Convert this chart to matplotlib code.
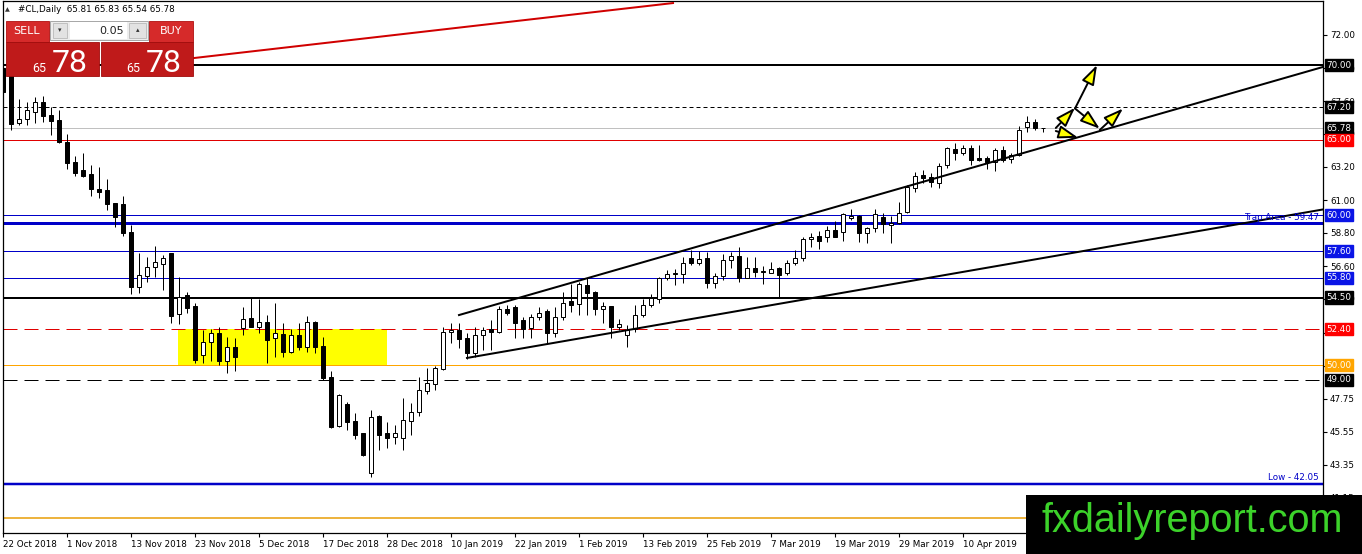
import numpy as np
import matplotlib.pyplot as plt
from matplotlib.patches import Rectangle, FancyArrowPatch
import matplotlib.transforms as mtransforms

# daily candles, #CL
opens = [69.8, 69.3, 66.11, 66.38, 66.89, 67.51, 66.67, 66.33, 64.89, 63.56,
         63.0, 62.73, 61.76, 61.67, 60.78, 60.73, 58.87, 55.22, 55.96, 56.56,
         56.73, 57.45, 53.38, 54.67, 53.93, 50.67, 51.51, 52.11, 50.29, 51.22,
         52.44, 53.11, 52.56, 52.89, 51.78, 52.07, 50.89, 52.0, 51.18, 52.84,
         51.27, 49.18, 45.93, 47.4, 46.27, 45.44, 42.82, 46.6, 45.49, 45.22,
         45.11, 46.27, 46.89, 48.29, 48.71, 49.73, 52.18, 52.33, 51.78, 50.78,
         52.0, 52.38, 52.22, 53.71, 53.84, 53.0, 52.44, 53.18, 53.62, 52.11,
         53.22, 54.29, 54.07, 55.33, 54.89, 53.71, 53.93, 52.56, 52.0, 52.38,
         53.33, 54.0, 54.38, 55.78, 56.07, 56.07, 57.11, 56.82, 57.11, 55.44,
         55.96, 57.0, 57.27, 55.82, 56.49, 56.2, 56.16, 56.49, 56.16, 56.82,
         57.11, 58.38, 58.6, 58.51, 59.0, 58.89, 59.82, 59.93, 58.82, 59.11,
         59.84, 59.33, 59.44, 60.22, 61.78, 62.67, 62.51, 62.16, 63.33, 64.38,
         64.16, 64.44, 63.78, 63.78, 63.56, 64.33, 63.71, 64.0, 65.84, 66.22,
         65.81]
highs = [70.3, 69.4, 67.71, 67.56, 67.89, 67.93, 67.22, 67.0, 65.4, 63.93,
         64.16, 63.33, 63.22, 62.4, 60.82, 61.27, 59.33, 57.45, 57.22, 57.93,
         57.33, 57.49, 55.84, 54.89, 54.11, 52.33, 52.38, 52.51, 51.89, 51.78,
         53.89, 54.56, 54.38, 53.33, 54.16, 52.78, 52.38, 52.82, 53.27, 52.96,
         51.84, 49.62, 48.04, 47.56, 46.78, 45.44, 47.0, 46.67, 46.22, 46.0,
         47.78, 47.44, 49.18, 49.78, 49.93, 52.56, 52.8, 52.78, 52.11, 52.56,
         52.51, 52.98, 53.93, 54.0, 54.0, 53.22, 53.4, 53.84, 53.71, 53.84,
         54.89, 55.4, 55.56, 55.78, 54.96, 54.22, 53.93, 53.04, 52.67, 54.0,
         54.38, 54.73, 55.89, 56.33, 56.38, 57.22, 57.67, 57.62, 57.56, 56.11,
         57.4, 57.56, 57.89, 57.22, 57.22, 56.6, 56.89, 56.56, 57.0, 57.67,
         58.56, 58.78, 58.96, 59.27, 59.62, 60.11, 60.38, 60.0, 59.22, 60.38,
         60.16, 59.93, 60.89, 62.0, 62.85, 63.0, 62.78, 63.44, 64.56, 64.78,
         64.67, 64.67, 64.67, 63.93, 64.44, 64.6, 64.11, 65.93, 66.6, 66.38,
         65.83]
lows = [67.9, 65.7, 66.0, 66.0, 66.16, 66.22, 65.33, 64.78, 63.09, 62.6,
        62.56, 61.27, 61.16, 60.33, 59.22, 58.6, 54.73, 54.78, 55.56, 55.89,
        55.0, 52.78, 52.73, 53.44, 50.16, 50.11, 50.29, 50.0, 49.44, 49.6,
        52.0, 52.51, 52.16, 50.11, 50.56, 50.56, 50.78, 51.0, 50.89, 50.82,
        49.0, 45.78, 45.89, 45.67, 45.04, 43.93, 42.51, 44.33, 44.44, 44.73,
        44.33, 45.33, 46.6, 48.07, 48.33, 49.67, 51.5, 51.15, 50.38, 50.56,
        51.0, 51.0, 52.16, 53.33, 51.78, 51.78, 51.78, 53.0, 51.44, 51.89,
        53.0, 53.56, 53.33, 53.33, 53.33, 52.82, 51.78, 52.33, 51.22, 52.22,
        53.22, 53.84, 54.16, 55.67, 55.33, 55.44, 56.67, 56.67, 55.11, 55.11,
        55.7, 56.44, 55.56, 55.78, 55.89, 55.4, 56.11, 54.56, 56.0, 56.67,
        56.96, 57.89, 57.71, 58.22, 58.51, 58.29, 59.67, 58.22, 58.16, 58.89,
        58.78, 58.16, 59.4, 60.11, 61.56, 62.11, 61.89, 61.78, 63.11, 63.67,
        64.0, 63.33, 63.6, 63.04, 62.96, 63.56, 63.44, 63.93, 65.56, 65.67,
        65.54]
closes = [68.2, 66.07, 66.38, 67.0, 67.56, 66.62, 66.29, 64.89, 63.49, 62.82,
          62.6, 61.71, 61.56, 60.73, 59.84, 58.82, 55.22, 56.0, 56.56, 56.84,
          57.11, 53.27, 54.51, 53.82, 50.33, 51.56, 52.11, 50.29, 51.22, 50.56,
          53.04, 52.56, 52.89, 51.67, 52.11, 50.89, 52.0, 51.18, 52.84, 51.22,
          49.11, 45.84, 47.98, 46.22, 45.33, 44.0, 46.56, 45.33, 45.11, 45.44,
          46.33, 46.84, 48.33, 48.78, 49.78, 52.18, 52.33, 51.71, 50.78, 52.0,
          52.33, 52.18, 53.71, 53.49, 52.78, 52.38, 53.18, 53.49, 52.11, 53.22,
          54.16, 53.98, 55.4, 54.82, 53.71, 53.93, 52.56, 52.71, 52.33, 53.33,
          54.0, 54.44, 55.78, 56.07, 56.12, 56.82, 56.82, 57.04, 55.44, 55.96,
          57.0, 57.27, 55.82, 56.44, 56.22, 56.25, 56.38, 56.0, 56.78, 57.11,
          58.38, 58.56, 58.29, 59.0, 58.56, 60.04, 59.93, 58.82, 59.11, 60.04,
          59.4, 59.44, 60.11, 61.85, 62.58, 62.49, 62.22, 63.27, 64.44, 64.16,
          64.44, 63.67, 63.67, 63.56, 64.33, 63.67, 64.0, 65.67, 66.22, 65.78,
          65.78]

date_labels = ['22 Oct 2018', '1 Nov 2018', '13 Nov 2018', '23 Nov 2018',
               '5 Dec 2018', '17 Dec 2018', '28 Dec 2018', '10 Jan 2019',
               '22 Jan 2019', '1 Feb 2019', '13 Feb 2019', '25 Feb 2019',
               '7 Mar 2019', '19 Mar 2019', '29 Mar 2019', '10 Apr 2019']
price_ticks = [72.00, 69.80, 67.60, 65.40, 63.20, 61.00, 58.80, 56.60,
               54.40, 52.15, 49.95, 47.75, 45.55, 43.35, 41.15]

# horizontal levels
level_prices = [70.00, 67.20, 65.78, 65.00, 60.00, 59.47, 57.60, 55.80,
                54.50, 52.40, 50.00, 49.00, 42.05, 39.80]
level_colors = ['black', 'black', '#C0C0C0', '#E00000', '#0000C8', '#0000C8',
                '#0000C8', '#0000C8', 'black', '#E00000', '#FFA500', 'black',
                '#0000C8', '#EDB440']
level_widths = [2, 1, 1, 1, 1, 3, 1, 1, 2, 1, 1, 1, 2.5, 2]   # pixels
level_dashes = [None, (4, 3), None, None, None, None, None, None,
                None, (14, 7), None, (14, 7), None, None]

# price boxes on the right scale
box_prices = [70.00, 67.20, 65.78, 65.00, 60.00, 57.60, 55.80, 54.50, 52.40, 50.00, 49.00]
box_colors = ['black', 'black', 'black', '#FF0000', '#0A14E6', '#0A14E6',
              '#0A14E6', 'black', '#FF0000', '#FFA500', 'black']

# drawn objects (bar index, price)
red_line = [(22, 70.35), (83.75, 74.13)]
upper_channel = [(57, 53.33), (165, 69.87)]
lower_channel = [(58, 50.47), (165, 60.37)]
zone_x = (21.9, 47.95)
zone_y = (50.00, 52.40)
arrows = [((131.6, 65.80), (134.0, 67.15)),
          ((134.0, 67.10), (136.75, 70.0)),
          ((134.0, 67.10), (137.1, 65.75)),
          ((131.6, 65.60), (134.4, 65.15)),
          ((137.1, 65.67), (140.0, 67.1))]

W, H = 1362, 554
PX = 0.72  # points per pixel at dpi 100

fig = plt.figure(figsize=(W / 100, H / 100), dpi=100)
ax = fig.add_axes([3 / W, 21 / H, 1320 / W, 532 / H])
ax.set_xlim(0, 165)
ax.set_ylim(72 - 498 / 15, 72 + 34 / 15)

# yellow zone
ax.add_patch(Rectangle((zone_x[0], zone_y[0]), zone_x[1] - zone_x[0],
                       zone_y[1] - zone_y[0], fc='#FFFF00', ec='none', zorder=1))

for p, col, lw, ds in zip(level_prices, level_colors, level_widths, level_dashes):
    ln = ax.axhline(p, color=col, lw=lw * PX, zorder=2)
    if ds is not None:
        ln.set_dashes(ds)

# candles
o = np.array(opens)
h = np.array(highs)
l = np.array(lows)
c = np.array(closes)
x = np.arange(len(o))
up = c >= o
ax.vlines(x, l, h, color='black', lw=PX, zorder=3)
lo = np.minimum(o, c)
bh = np.maximum(np.abs(c - o), 0.04)
ax.bar(x[up], bh[up], width=0.6, bottom=lo[up], color='white',
       edgecolor='black', lw=PX, zorder=4)
ax.bar(x[~up], bh[~up], width=0.6, bottom=lo[~up], color='black',
       edgecolor='black', lw=PX, zorder=4)

# trend lines
ax.plot(*zip(*red_line), color='#D00000', lw=2 * PX, zorder=5)
ax.plot(*zip(*upper_channel), color='black', lw=2 * PX, zorder=5)
ax.plot(*zip(*lower_channel), color='black', lw=2 * PX, zorder=5)

for a, b in arrows:
    ax.add_patch(FancyArrowPatch(a, b, arrowstyle='-|>,head_length=0.6,head_width=0.2',
                                 mutation_scale=20, fc='#FFFF00', ec='black',
                                 lw=1.4, shrinkA=0, shrinkB=0, zorder=6))

tr = mtransforms.blended_transform_factory(ax.transAxes, ax.transData)
ax.text(0.997, 59.47 + 0.08, 'Trap Area - 59.47', color='#0000C8', fontsize=6.3,
        ha='right', va='bottom', transform=tr, zorder=6)
ax.text(0.997, 42.05 + 0.15, 'Low - 42.05', color='#0000C8', fontsize=6.3,
        ha='right', va='bottom', transform=tr, zorder=6)

# axes
ax.yaxis.tick_right()
ax.set_yticks(price_ticks)
ax.set_yticklabels(['%.2f' % t for t in price_ticks])
ax.set_xticks(np.arange(0, 8 * len(date_labels), 8))
ax.set_xticklabels(date_labels, ha='left')
ax.tick_params(axis='both', direction='out', length=3, width=0.8, labelsize=6.3, pad=2)
for s in ax.spines.values():
    s.set_linewidth(0.9)
    s.set_color('black')

for p, col in zip(box_prices, box_colors):
    ax.text(1.0025, p, '%.2f' % p, transform=tr, ha='left', va='center',
            fontsize=6.3, color='white', clip_on=False, zorder=7,
            bbox=dict(boxstyle='square,pad=0.18', fc=col, ec=col))


# trade panel (pixel coordinates from top left)
def prect(x0, y0, x1, y1, **kw):
    fig.add_artist(Rectangle((x0 / W, 1 - y1 / H), (x1 - x0) / W, (y1 - y0) / H,
                             transform=fig.transFigure, **kw))


def ptext(xp, yp, s, **kw):
    fig.text(xp / W, 1 - yp / H, s, **kw)


ptext(5, 10, '\u25b2', fontsize=4.5, va='center', color='#333333')
ptext(18, 10, '#CL,Daily  65.81 65.83 65.54 65.78', fontsize=6.3, va='center')

prect(6, 21, 49, 42, fc='#D62A2A', ec='#B01010', lw=0.6)
prect(149, 21, 193, 42, fc='#D62A2A', ec='#B01010', lw=0.6)
prect(6, 42, 99, 76, fc='#BF1A1A', ec='#A00C0C', lw=0.6)
prect(101, 42, 193, 76, fc='#BF1A1A', ec='#A00C0C', lw=0.6)
prect(50, 21, 148, 40, fc='#EDEDED', ec='#9A9A9A', lw=0.6)
prect(53, 23, 67, 38, fc='#E2E2E2', ec='#B0B0B0', lw=0.5)
prect(70, 22, 127, 39, fc='white', ec='none')
prect(129, 23, 146, 38, fc='#E2E2E2', ec='#B0B0B0', lw=0.5)
ptext(60, 30, '\u25be', fontsize=5, ha='center', va='center', color='#333333')
ptext(137.5, 30, '\u25b4', fontsize=5, ha='center', va='center', color='#333333')
ptext(124, 31, '0.05', fontsize=8, ha='right', va='center', color='#222222')
ptext(27, 31, 'SELL', fontsize=8, ha='center', va='center', color='white')
ptext(171, 31, 'BUY', fontsize=8, ha='center', va='center', color='white')
ptext(46, 72, '65', fontsize=9, ha='right', va='baseline', color='white', family='Roboto')
ptext(52, 72, '78', fontsize=23, ha='left', va='baseline', color='white', family='Roboto')
ptext(140, 72, '65', fontsize=9, ha='right', va='baseline', color='white', family='Roboto')
ptext(146, 72, '78', fontsize=23, ha='left', va='baseline', color='white', family='Roboto')

# watermark
prect(1026, 495, 1362, 554, fc='black', ec='none')
ptext(1042, 532, 'fxdailyreport.com', fontsize=28.5, family='Liberation Sans',
      color='#3CD22A', va='baseline', ha='left')

fig.savefig('out.png', dpi=100)
